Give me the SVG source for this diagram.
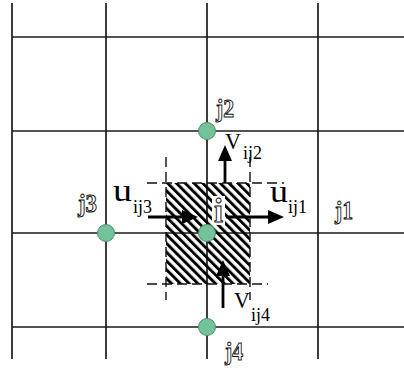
<svg xmlns="http://www.w3.org/2000/svg" width="404" height="372" viewBox="0 0 404 372">
<style>
.grid{stroke:#1a1a1a;stroke-width:1.7;fill:none}
.dash{stroke:#111;stroke-width:1.4;stroke-dasharray:10 5;fill:none}
.node{fill:#74c29a;stroke:#4f8f6c;stroke-width:1}
.arr{stroke:#000;stroke-width:2.8;fill:none}
.head{fill:#000}
.lbl{font-family:"Liberation Serif",serif;fill:#000}
.sub{font-family:"Liberation Serif",serif;fill:#000;font-size:18px}
.hol{font-family:"Liberation Serif",serif;fill:#fff;stroke:#111;stroke-width:1;font-size:25px;font-weight:bold}
</style>
<defs>
<pattern id="hatch" patternUnits="userSpaceOnUse" width="6.2" height="6.2" patternTransform="rotate(-45)">
<rect x="0" y="0" width="2.9" height="6.2" fill="#000"/>
</pattern>
</defs>
<rect width="404" height="372" fill="#fff"/>
<g id="grid">
<line class="grid" x1="12" y1="3" x2="12" y2="359"/>
<line class="grid" x1="106" y1="3" x2="106" y2="359"/>
<line class="grid" x1="207" y1="3" x2="207" y2="359"/>
<line class="grid" x1="318" y1="3" x2="318" y2="359"/>
<line class="grid" x1="12" y1="37" x2="404" y2="37"/>
<line class="grid" x1="12" y1="131" x2="404" y2="131"/>
<line class="grid" x1="12" y1="233" x2="404" y2="233"/>
<line class="grid" x1="12" y1="327" x2="404" y2="327"/>
</g>
<g id="cell">
<rect x="166" y="183" width="84" height="101" fill="url(#hatch)"/>
<rect x="212" y="196" width="13" height="29" fill="#fff"/>
<line class="dash" x1="147" y1="183" x2="284" y2="183"/>
<line class="dash" x1="147" y1="284" x2="268" y2="284"/>
<line class="dash" x1="166" y1="157" x2="166" y2="300"/>
<line class="dash" x1="250" y1="157" x2="250" y2="300"/>
</g>
<g id="connectors">
<line class="arr" x1="225" y1="183" x2="225" y2="158"/>
<polygon class="head" points="225,145 218,161 232,161"/>
<line class="arr" x1="148" y1="217" x2="184" y2="217"/>
<polygon class="head" points="198,217 182,210 182,224"/>
<line class="arr" x1="226" y1="217" x2="270" y2="217"/>
<polygon class="head" points="284,217 268,210 268,224"/>
<line class="arr" x1="223" y1="308" x2="223" y2="273"/>
<polygon class="head" points="223,260 216,276 230,276"/>
</g>
<g id="node-i">
<circle class="node" cx="207" cy="233" r="8.5"/>
<text class="hol" x="214" y="222" style="font-size:33px" textLength="9" lengthAdjust="spacingAndGlyphs">i</text>
</g>
<g id="node-j1">
<text class="hol" x="335" y="219" textLength="18" lengthAdjust="spacingAndGlyphs">j1</text>
</g>
<g id="node-j2">
<circle class="node" cx="207" cy="131" r="8.5"/>
<text class="hol" x="216" y="117" textLength="18" lengthAdjust="spacingAndGlyphs">j2</text>
</g>
<g id="node-j3">
<circle class="node" cx="106" cy="233" r="8.5"/>
<text class="hol" x="78" y="212" textLength="19" lengthAdjust="spacingAndGlyphs">j3</text>
</g>
<g id="node-j4">
<circle class="node" cx="207" cy="327" r="8.5"/>
<text class="hol" x="225" y="360" textLength="18" lengthAdjust="spacingAndGlyphs">j4</text>
</g>
<g id="labels">
<text class="lbl" x="225" y="149" style="font-size:23px" textLength="16" lengthAdjust="spacingAndGlyphs">V</text>
<text class="sub" x="243" y="159">ij2</text>
<text class="lbl" x="113" y="201" style="font-size:31px" textLength="19" lengthAdjust="spacingAndGlyphs">u</text>
<text class="sub" x="133" y="213">ij3</text>
<text class="lbl" x="270" y="202" style="font-size:31px" textLength="18" lengthAdjust="spacingAndGlyphs">u</text>
<text class="sub" x="288" y="213">ij1</text>
<text class="lbl" x="234" y="308" style="font-size:23px" textLength="16" lengthAdjust="spacingAndGlyphs">V</text>
<text class="sub" x="251" y="321">ij4</text>
</g>
</svg>
